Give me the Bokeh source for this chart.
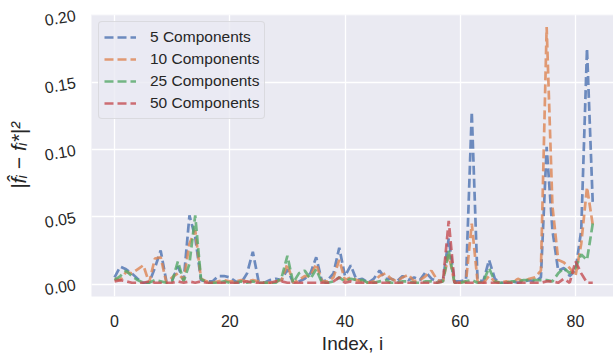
import math
from bokeh.plotting import figure
from bokeh.models import FixedTicker, PrintfTickFormatter, Legend, LegendItem, Range1d
from bokeh.embed import file_html
from bokeh.resources import INLINE

index = list(range(84))

comp5 = [0.005, 0.013, 0.011, 0.008, 0.004, 0.001, 0.001, 0.012, 0.025, 0.002,
         0.003, 0.013, 0.003, 0.051, 0.035, 0.003, 0.002, 0.002, 0.006, 0.006,
         0.005, 0.002, 0.001, 0.008, 0.024, 0.002, 0.001, 0.003, 0.004, 0.003,
         0.011, 0.001, 0.002, 0.004, 0.008, 0.020, 0.002, 0.003, 0.008, 0.027,
         0.006, 0.014, 0.003, 0.004, 0.001, 0.004, 0.010, 0.004, 0.004, 0.002,
         0.006, 0.003, 0.005, 0.003, 0.009, 0.004, 0.002, 0.003, 0.034, 0.002,
         0.002, 0.003, 0.128, 0.003, 0.002, 0.018, 0.004, 0.001, 0.001, 0.002,
         0.001, 0.002, 0.003, 0.002, 0.005, 0.102, 0.040, 0.010, 0.012, 0.006,
         0.010, 0.040, 0.175, 0.060]

comp10 = [0.004, 0.003, 0.009, 0.008, 0.011, 0.014, 0.001, 0.019, 0.020, 0.001,
          0.005, 0.008, 0.003, 0.030, 0.040, 0.004, 0.002, 0.001, 0.002, 0.003,
          0.002, 0.002, 0.003, 0.002, 0.003, 0.002, 0.001, 0.001, 0.002, 0.003,
          0.015, 0.001, 0.003, 0.006, 0.006, 0.015, 0.002, 0.002, 0.005, 0.018,
          0.003, 0.005, 0.003, 0.002, 0.001, 0.002, 0.006, 0.008, 0.004, 0.002,
          0.005, 0.007, 0.002, 0.003, 0.006, 0.010, 0.003, 0.002, 0.022, 0.001,
          0.001, 0.002, 0.045, 0.002, 0.001, 0.006, 0.002, 0.001, 0.002, 0.001,
          0.004, 0.002, 0.004, 0.005, 0.010, 0.191, 0.058, 0.018, 0.016, 0.012,
          0.006, 0.030, 0.072, 0.044]

comp25 = [0.003, 0.006, 0.010, 0.006, 0.003, 0.001, 0.001, 0.003, 0.002, 0.001,
          0.002, 0.017, 0.002, 0.015, 0.051, 0.004, 0.001, 0.001, 0.001, 0.002,
          0.001, 0.001, 0.002, 0.001, 0.002, 0.001, 0.001, 0.001, 0.001, 0.005,
          0.021, 0.001, 0.008, 0.010, 0.004, 0.011, 0.001, 0.001, 0.002, 0.005,
          0.002, 0.004, 0.003, 0.003, 0.001, 0.001, 0.002, 0.003, 0.001, 0.001,
          0.002, 0.002, 0.001, 0.001, 0.002, 0.002, 0.001, 0.002, 0.025, 0.001,
          0.001, 0.002, 0.003, 0.001, 0.002, 0.012, 0.002, 0.001, 0.001, 0.002,
          0.002, 0.003, 0.003, 0.003, 0.003, 0.003, 0.002, 0.008, 0.012, 0.008,
          0.012, 0.022, 0.018, 0.045]

comp50 = [0.002, 0.003, 0.002, 0.001, 0.001, 0.001, 0.002, 0.001, 0.001, 0.001,
          0.001, 0.002, 0.001, 0.002, 0.001, 0.002, 0.001, 0.001, 0.001, 0.001,
          0.001, 0.001, 0.001, 0.002, 0.001, 0.001, 0.001, 0.001, 0.002, 0.002,
          0.001, 0.001, 0.001, 0.001, 0.001, 0.001, 0.001, 0.001, 0.002, 0.005,
          0.001, 0.002, 0.001, 0.001, 0.001, 0.001, 0.001, 0.001, 0.001, 0.001,
          0.001, 0.001, 0.001, 0.001, 0.001, 0.001, 0.001, 0.002, 0.047, 0.001,
          0.001, 0.001, 0.001, 0.001, 0.001, 0.001, 0.001, 0.001, 0.001, 0.001,
          0.001, 0.001, 0.001, 0.001, 0.001, 0.002, 0.002, 0.001, 0.004, 0.001,
          0.017, 0.008, 0.001, 0.001]

series_names = ["5 Components", "10 Components", "25 Components", "50 Components"]
series_values = [comp5, comp10, comp25, comp50]
colors = ["#4C72B0", "#DD8452", "#55A868", "#C44E52"]

x_ticks = [0, 20, 40, 60, 80]
y_ticks = [0.0, 0.05, 0.10, 0.15, 0.20]

p = figure(width=613, height=356, output_backend="svg", toolbar_location=None,
           x_range=Range1d(-4.0, 86.6), y_range=Range1d(-0.0092, 0.2003),
           min_border_left=91, min_border_right=0, min_border_top=14, min_border_bottom=57)

p.background_fill_color = "#EAEAF2"
p.border_fill_color = "white"
p.outline_line_color = None

for ax in (p.xaxis[0], p.yaxis[0]):
    ax.axis_line_color = None
    ax.major_tick_line_color = None
    ax.minor_tick_line_color = None
    ax.major_label_text_font = "Liberation Sans"
    ax.major_label_text_font_size = "16px"
    ax.major_label_text_color = "#262626"
    ax.axis_label_text_font = "Liberation Sans"
    ax.axis_label_text_font_size = "19px"
    ax.axis_label_text_color = "#262626"
    ax.axis_label_text_font_style = "normal"

p.xaxis.ticker = FixedTicker(ticks=x_ticks)
p.yaxis.ticker = FixedTicker(ticks=y_ticks)
p.yaxis.formatter = PrintfTickFormatter(format="%.2f")
p.xaxis.major_label_orientation = "horizontal"
p.yaxis.major_label_orientation = 0.17
p.xaxis.major_label_standoff = 12
p.yaxis.major_label_standoff = 10
p.xaxis.axis_label = "Index, i"
p.yaxis.axis_label = "|f̂ᵢ − fᵢ*|²"
p.yaxis.axis_label_text_font_style = "italic"
p.yaxis.axis_label_text_font_size = "21px"
p.xaxis.axis_label_standoff = 3
p.yaxis.axis_label_standoff = 10

p.xgrid.grid_line_color = "white"
p.ygrid.grid_line_color = "white"
p.xgrid.grid_line_width = 1.3
p.ygrid.grid_line_width = 1.3
p.xgrid.minor_grid_line_color = None
p.ygrid.minor_grid_line_color = None

items = []
for name, vals, c in zip(series_names, series_values, colors):
    r = p.line(index, vals, line_color=c, line_width=2.7, line_alpha=0.8, line_dash="9 4")
    items.append(LegendItem(label=name, renderers=[r]))

legend = Legend(items=items, location="top_left")
legend.label_text_font = "Liberation Sans"
legend.label_text_font_size = "15.5px"
legend.label_text_color = "#262626"
legend.glyph_width = 32
legend.glyph_height = 20
legend.label_height = 20
legend.spacing = 2
legend.padding = 5
legend.margin = 7
legend.label_standoff = 14
legend.background_fill_color = "#EAEAF2"
legend.background_fill_alpha = 0.8
legend.border_line_color = "#CCCCCC"
legend.border_line_width = 1
legend.border_radius = 4
p.add_layout(legend)

open("out.html", "w").write(file_html(p, INLINE))
